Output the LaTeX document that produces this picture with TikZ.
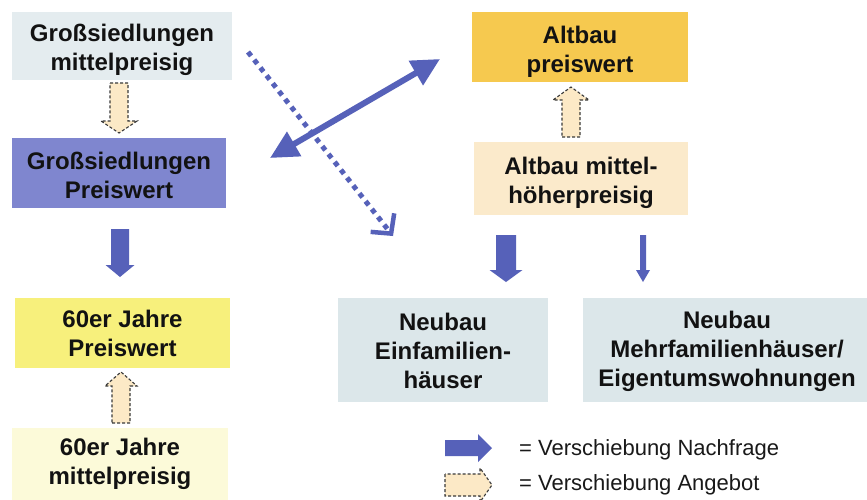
\documentclass[tikz,border=0pt]{standalone}
\usepackage{fontspec}
\setmainfont{Liberation Sans}
\usetikzlibrary{arrows.meta}
\definecolor{cA}{HTML}{E4ECEF}
\definecolor{cB}{HTML}{7F86CF}
\definecolor{cC}{HTML}{F7F07C}
\definecolor{cD}{HTML}{FCFAD9}
\definecolor{cE}{HTML}{F6C94F}
\definecolor{cF}{HTML}{FBEACB}
\definecolor{cG}{HTML}{DCE7EA}
\definecolor{arrblue}{HTML}{5661B9}
\definecolor{peach}{HTML}{FCE9C6}
\definecolor{dashgray}{HTML}{3A3A3A}
\newcommand{\vblk}[7]{\path[#1] ({#2-#6},#3) -- ({#2+#6},#3) -- ({#2+#6},#4) -- ({#2+#7},#4) -- (#2,#5) -- ({#2-#7},#4) -- ({#2-#6},#4) -- cycle;}
\newcommand{\hblk}[7]{\path[#1] (#3,{#2-#6}) -- (#3,{#2+#6}) -- (#4,{#2+#6}) -- (#4,{#2+#7}) -- (#5,#2) -- (#4,{#2-#7}) -- (#4,{#2-#6}) -- cycle;}
\tikzset{
  boxbg/.style={inner sep=0pt},
  boxtext/.style={inner sep=0pt, align=center, text=black!93,
    font=\fontsize{24}{29}\selectfont\bfseries},
  solidblk/.style={fill=arrblue},
  dashblk/.style={fill=peach, draw=dashgray, line width=1.1pt, dash pattern=on 3pt off 2pt},
  legend/.style={anchor=west, inner sep=0pt, text=black!90, font=\fontsize{22}{26}\selectfont}
}
\begin{document}
\begin{tikzpicture}[x=1pt,y=-1pt]
\useasboundingbox (0,0) rectangle (867,499);
\fill[white] (0,0) rectangle (867,499);
% boxes
\node[boxbg, fill=cA, minimum width=220pt, minimum height=68pt] (b1) at (122,46) {};
\node[boxtext] (t1) at ([yshift=-4pt]b1.center) {Großsiedlungen\\mittelpreisig};
\node[boxbg, fill=cB, minimum width=214pt, minimum height=70pt] (b2) at (119,173) {};
\node[boxtext] (t2) at ([yshift=-2pt]b2.center) {Großsiedlungen\\Preiswert};
\node[boxbg, fill=cC, minimum width=215pt, minimum height=70pt] (b3) at (122.5,333) {};
\node[boxtext] (t3) at (b3.center) {60er Jahre\\Preiswert};
\node[boxbg, fill=cD, minimum width=216pt, minimum height=72pt] (b4) at (120,464) {};
\node[boxtext] (t4) at (b4.center) {60er Jahre\\mittelpreisig};
\node[boxbg, fill=cE, minimum width=216pt, minimum height=70pt] (b5) at (580,47) {};
\node[boxtext] (t5) at ([yshift=-4.5pt]b5.center) {Altbau\\preiswert};
\node[boxbg, fill=cF, minimum width=214pt, minimum height=73pt] (b6) at (581,178.5) {};
\node[boxtext] (t6) at ([yshift=-4pt]b6.center) {Altbau mittel-\\höherpreisig};
\node[boxbg, fill=cG, minimum width=210pt, minimum height=104pt] (b7) at (443,350) {};
\node[boxtext] (t7) at ([yshift=-1pt]b7.center) {Neubau\\Einfamilien-\\häuser};
\node[boxbg, fill=cG, minimum width=288pt, minimum height=104pt] (b8) at (727,350) {};
\node[boxtext] (t8) at ([yshift=-1pt]b8.center) {Neubau\\Mehrfamilienhäuser/\\Eigentumswohnungen};
% block arrows between boxes
\vblk{dashblk}{119}{83}{121}{133}{9}{18}
\vblk{solidblk}{120}{229}{265}{277}{9}{14.5}
\vblk{dashblk}{121}{423}{386}{372}{9}{16}
\vblk{dashblk}{571}{137}{100}{87}{9}{18}
\vblk{solidblk}{506}{235}{270}{282}{10}{16.5}
\vblk{solidblk}{643}{235}{270}{282}{3}{7}
% diagonal arrows
\coordinate (dl) at (270,158);
\coordinate (dr) at (440,59);
\coordinate (ps) at (248,52);
\coordinate (pe) at (393,236);
\draw[arrblue, line width=6pt, {Triangle[length=28pt,width=27pt]}-{Triangle[length=28pt,width=27pt]}] (dl) -- (dr);
\draw[arrblue, line width=5pt, dash pattern=on 5pt off 5pt, -{Straight Barb[length=14pt,width=30pt,line width=4.5pt]}] (ps) -- (pe);
% legend
\hblk{solidblk}{448}{445}{478}{492}{8}{14}
\hblk{dashblk}{485}{445}{480}{492}{11}{17}
\node[legend] (l1) at (519,450) {= Verschiebung Nachfrage};
\node[legend] (l2) at (519,485) {= Verschiebung Angebot};
\end{tikzpicture}
\end{document}
